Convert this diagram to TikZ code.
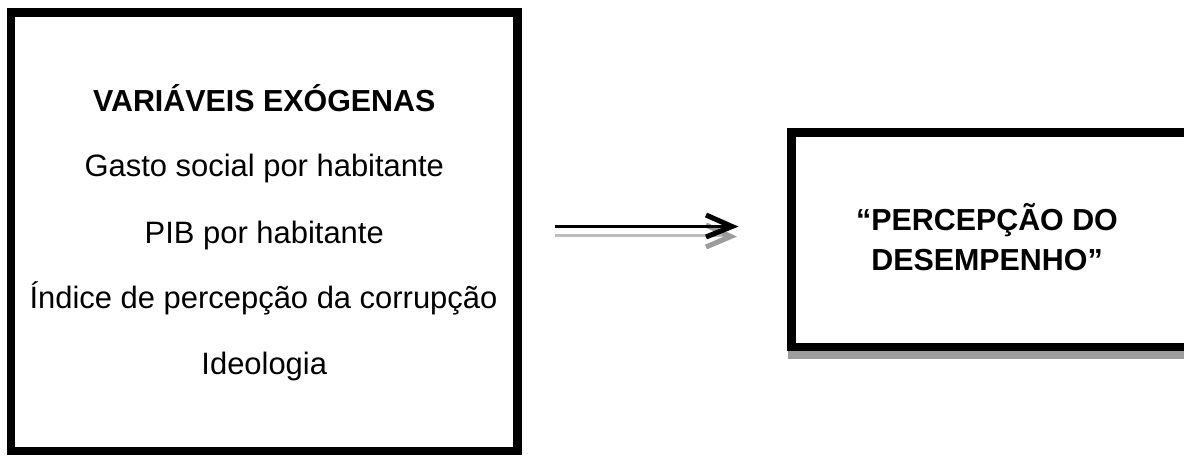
\documentclass[tikz,border=0pt]{standalone}
\usepackage{fontspec}
\setmainfont{Liberation Sans}
\definecolor{shadowgray}{HTML}{9C9C9C}
\definecolor{arrowshade}{HTML}{BDBDBD}
\begin{document}
\begin{tikzpicture}[x=0.75pt,y=-0.75pt,
  box/.style={draw=black, line width=6.6pt, fill=white, inner sep=0pt, outer sep=0pt},
  lbl/.style={font=\fontsize{23.2}{30}\selectfont, anchor=base, inner sep=0pt},
  ttl/.style={font=\fontsize{22.8}{30}\selectfont\bfseries, anchor=base, inner sep=0pt},
  shaft/.style={line width=2.4pt, line cap=butt},
  barb/.style={line width=3.8pt, line join=miter, line cap=butt},
]
\useasboundingbox (0,0) rectangle (1184,456);
\fill[white] (0,0) rectangle (1184,456);

% left box
\node[box, minimum width=379.9pt, minimum height=328.9pt] (exo) at (264.25,231.75) {};
\node[ttl] (t0) at (264.25,111.7) {VARIÁVEIS EXÓGENAS};
\node[lbl] (t1) at (264.25,176.7) {Gasto social por habitante};
\node[lbl] (t2) at (264.25,243.3) {PIB por habitante};
\node[lbl] (t3) at (263.5,308.3) {Índice de percepção da corrupção};
\node[lbl] (t4) at (264.25,374) {Ideologia};

% right box with shadow
\fill[shadowgray] (788,351) rectangle (1190,359);
\node[box, minimum width=297.4pt, minimum height=160.9pt] (perc) at (989.75,239.75) {};
\node[ttl] (pt1) at (987,230) {“PERCEPÇÃO DO};
\node[ttl] (pt2) at (987,270) {DESEMPENHO”};

% arrow (shadow, then arrow)
\coordinate (as) at (555,226.8);
\coordinate (ae) at (729,226.8);
\coordinate (tip) at (732,226.5);
\coordinate (bu) at (706,215);
\coordinate (bl) at (706,237);
\draw[shaft, arrowshade] ([yshift=-6.4pt]as) -- ([yshift=-6.4pt,xshift=-3pt]ae);
\draw[barb, shadowgray] ([yshift=-7.5pt]bu) -- ([yshift=-7.5pt,xshift=-1pt]tip) -- ([yshift=-7.5pt]bl);
\draw[shaft, black] (as) -- (ae);
\draw[barb, black] (bu) -- (tip) -- (bl);
\end{tikzpicture}
\end{document}
